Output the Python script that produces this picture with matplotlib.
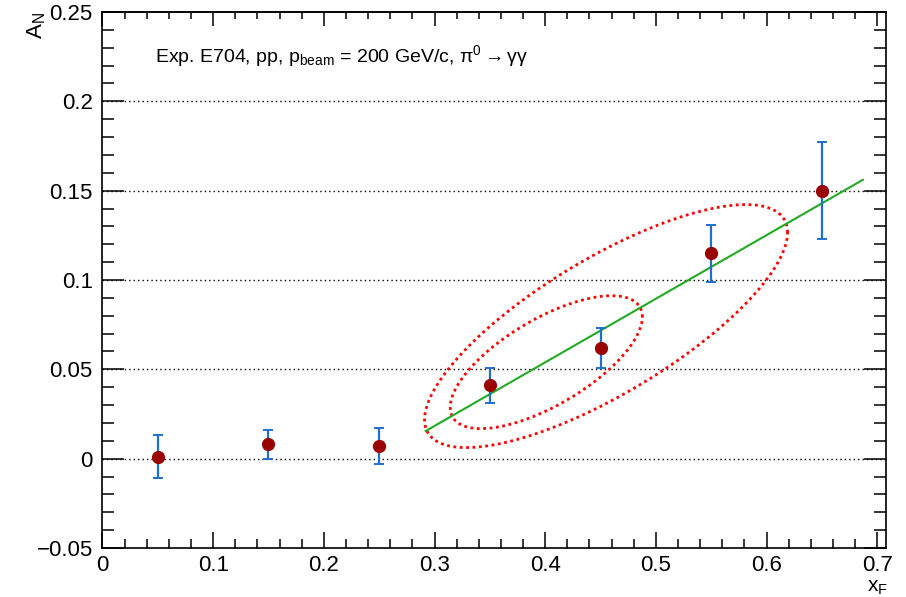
import numpy as np
import matplotlib.pyplot as plt
from matplotlib.ticker import MultipleLocator

plt.rcParams['font.family'] = ['Liberation Sans', 'DejaVu Sans']
plt.rcParams['mathtext.fontset'] = 'custom'
plt.rcParams['mathtext.rm'] = 'Liberation Sans'
plt.rcParams['mathtext.it'] = 'Liberation Sans'
plt.rcParams['mathtext.default'] = 'regular'

# data points E704
xF = [0.05, 0.15, 0.25, 0.35, 0.45, 0.55, 0.65]
AN = [0.001, 0.008, 0.007, 0.041, 0.062, 0.115, 0.150]
AN_err = [0.012, 0.008, 0.010, 0.010, 0.011, 0.016, 0.027]

# linear fit A_N = p0 + p1*xF
fit_p0 = -0.0885
fit_p1 = 0.356
fit_range = [0.292, 0.687]

# contours: centre x, centre y, half width x, half width y, correlation
ell_cx = [0.455, 0.401]
ell_cy = [0.0742, 0.054]
ell_sx = [0.164, 0.0868]
ell_sy = [0.068, 0.0372]
ell_rho = [0.77, 0.68]

fig = plt.figure(figsize=(9.06, 5.97), dpi=100)
ax = fig.add_axes([0.1131, 0.0821, 0.8649, 0.8978])

ax.set_xlim(0, 0.708)
ax.set_ylim(-0.05, 0.25)

# grid only on y
for yv in [0.0, 0.05, 0.1, 0.15, 0.2]:
    ax.axhline(yv, color='black', lw=1.0, ls=(0, (1, 2.2)), zorder=1)

# ellipses
t = np.linspace(0, 2 * np.pi, 400)
for cx, cy, sx, sy, r in zip(ell_cx, ell_cy, ell_sx, ell_sy, ell_rho):
    ex = cx + sx * np.cos(t)
    ey = cy + sy * (r * np.cos(t) + np.sqrt(1 - r**2) * np.sin(t))
    ax.plot(ex, ey, color='#ff0000', lw=2.0, ls=(0, (1, 1.3)), zorder=2)

# fit line
xf = np.linspace(fit_range[0], fit_range[1], 50)
ax.plot(xf, fit_p0 + fit_p1 * xf, color='#22aa22', lw=1.5, zorder=3)

ax.errorbar(xF, AN, yerr=AN_err, fmt='none', ecolor='#1f6fcf', elinewidth=1.6,
            capsize=3.5, capthick=1.4, zorder=4)
ax.plot(xF, AN, 'o', color='#990000', markersize=8.5, zorder=5)

ax.text(0.067, 0.918, r'Exp. E704, pp, p$_{beam}$ = 200 GeV/c, π$^{0}$$\rightarrow$γγ',
        fontsize=14, va='center', ha='left', zorder=6, transform=ax.transAxes)

# ticks ROOT style
ax.xaxis.set_minor_locator(MultipleLocator(0.02))
ax.yaxis.set_minor_locator(MultipleLocator(0.01))
ax.set_xticks([0, 0.1, 0.2, 0.3, 0.4, 0.5, 0.6, 0.7])
ax.set_xticklabels(['0', '0.1', '0.2', '0.3', '0.4', '0.5', '0.6', '0.7'])
ax.set_yticks([-0.05, 0, 0.05, 0.1, 0.15, 0.2, 0.25])
ax.set_yticklabels(['−0.05', '0', '0.05', '0.1', '0.15', '0.2', '0.25'])

ax.tick_params(axis='y', which='both', direction='in', right=True, labelsize=16, width=1.1)
ax.tick_params(axis='y', which='major', length=16, pad=7)
ax.tick_params(axis='y', which='minor', length=8.5)
ax.tick_params(axis='x', which='both', direction='in', top=False, labelsize=16, width=1.1)
ax.tick_params(axis='x', which='major', length=11.5, pad=5)
ax.tick_params(axis='x', which='minor', length=6.5)

top = ax.secondary_xaxis('top')
top.xaxis.set_major_locator(MultipleLocator(0.1))
top.xaxis.set_minor_locator(MultipleLocator(0.02))
top.tick_params(axis='x', which='both', direction='in', labeltop=False, width=1.1)
top.tick_params(axis='x', which='major', length=10)
top.tick_params(axis='x', which='minor', length=5)
top.spines['top'].set_linewidth(1.2)

for s in ax.spines.values():
    s.set_linewidth(1.2)

ax.text(-0.084, 1.0, r'A$_{N}$', rotation=90, fontsize=16, ha='center', va='top',
        transform=ax.transAxes)
ax.text(0.9885, -0.074, r'x$_{F}$', fontsize=15, ha='center', va='center',
        transform=ax.transAxes)

fig.savefig('out.png', dpi=100)
